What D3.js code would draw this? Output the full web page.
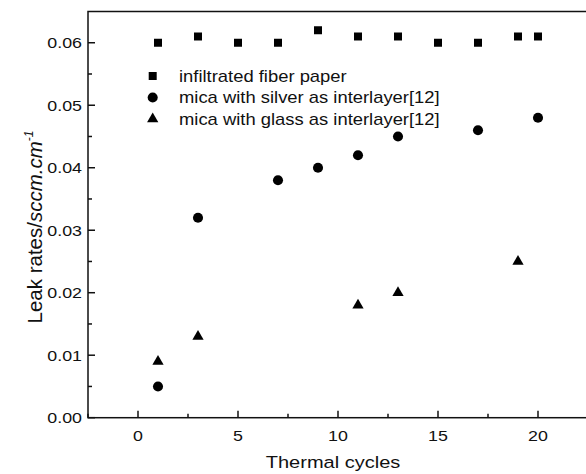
<!DOCTYPE html>
<html><head><meta charset="utf-8">
<script src="https://cdn.jsdelivr.net/npm/d3@7"></script>
<style>
html,body{margin:0;padding:0;background:#fff;}
svg{display:block;}
text{font-family:"Liberation Sans",Arial,Helvetica,sans-serif;fill:#111;}
</style></head><body>
<script>
// Data
const seriesNames = ["infiltrated fiber paper", "mica with silver as interlayer[12]", "mica with glass as interlayer[12]"];
const fiberX = [1, 3, 5, 7, 9, 11, 13, 15, 17, 19, 20];
const fiberY = [0.060, 0.061, 0.060, 0.060, 0.062, 0.061, 0.061, 0.060, 0.060, 0.061, 0.061];
const silverX = [1, 3, 7, 9, 11, 13, 17, 20];
const silverY = [0.005, 0.032, 0.038, 0.040, 0.042, 0.045, 0.046, 0.048];
const glassX = [1, 3, 11, 13, 19];
const glassY = [0.009, 0.013, 0.018, 0.020, 0.025];
const xTicks = [0, 5, 10, 15, 20];
const yTicks = [0.00, 0.01, 0.02, 0.03, 0.04, 0.05, 0.06];

const W = 586, H = 474;
const SX = 1.15; // horizontal stretch of the original image text
const svg = d3.select("body").append("svg").attr("width", W).attr("height", H);

const x = d3.scaleLinear().domain([-2.5, 22.5]).range([88, 588]);
const y = d3.scaleLinear().domain([0, 0.065]).range([417.7, 11.5]);

// frame
svg.append("rect").attr("x", x(-2.5)).attr("y", y(0.065))
  .attr("width", x(22.5) - x(-2.5)).attr("height", y(0) - y(0.065))
  .attr("fill", "none").attr("stroke", "#111").attr("stroke-width", 1.5);

// x axis ticks (inward)
const xMinor = d3.range(-2.5, 22.6, 2.5).filter(v => !xTicks.includes(v));
const gx = svg.append("g");
gx.selectAll("line.maj").data(xTicks).join("line")
  .attr("x1", d => x(d)).attr("x2", d => x(d)).attr("y1", y(0)).attr("y2", y(0) - 7)
  .attr("stroke", "#111").attr("stroke-width", 1.5);
gx.selectAll("line.min").data(xMinor).join("line")
  .attr("x1", d => x(d)).attr("x2", d => x(d)).attr("y1", y(0)).attr("y2", y(0) - 4)
  .attr("stroke", "#111").attr("stroke-width", 1.5);
gx.selectAll("text").data(xTicks).join("text")
  .attr("transform", d => `translate(${x(d)},${y(0) + 23}) scale(${SX},1)`)
  .attr("text-anchor", "middle").attr("font-size", 15.5).text(d => d3.format("d")(d));

// y axis ticks
const yMinor = d3.range(0.005, 0.065, 0.01);
const gy = svg.append("g");
gy.selectAll("line.maj").data(yTicks).join("line")
  .attr("x1", x(-2.5)).attr("x2", x(-2.5) + 7).attr("y1", d => y(d)).attr("y2", d => y(d))
  .attr("stroke", "#111").attr("stroke-width", 1.5);
gy.selectAll("line.min").data(yMinor).join("line")
  .attr("x1", x(-2.5)).attr("x2", x(-2.5) + 4).attr("y1", d => y(d)).attr("y2", d => y(d))
  .attr("stroke", "#111").attr("stroke-width", 1.5);
gy.selectAll("text").data(yTicks).join("text")
  .attr("transform", d => `translate(${x(-2.5) - 6},${y(d) + 5.5}) scale(${SX},1)`)
  .attr("text-anchor", "end").attr("font-size", 15.5).text(d => d3.format(".2f")(d));

// axis titles
svg.append("text").attr("transform", `translate(333,468) scale(${SX},1)`)
  .attr("text-anchor", "middle").attr("font-size", 17.4).text("Thermal cycles");
const yt = svg.append("text").attr("transform", "translate(42,227) rotate(-90)")
  .attr("text-anchor", "middle").attr("font-size", 20.5);
yt.append("tspan").text("Leak rates/");
yt.append("tspan").attr("font-style", "italic").text("sccm.cm");
yt.append("tspan").attr("font-style", "italic").attr("font-size", 12).attr("dy", -9).text("-1");

// markers
const sym = [d3.symbol().type(d3.symbolSquare).size(64),
             d3.symbol().type(d3.symbolCircle).size(80),
             d3.symbol().type(d3.symbolTriangle).size(55)];
const series = [
  fiberX.map((v, i) => [v, fiberY[i]]),
  silverX.map((v, i) => [v, silverY[i]]),
  glassX.map((v, i) => [v, glassY[i]])
];
series.forEach((pts, k) => {
  svg.append("g").selectAll("path").data(pts).join("path")
    .attr("transform", d => `translate(${x(d[0])},${y(d[1])})`)
    .attr("d", sym[k]()).attr("fill", "#000");
});

// legend
const lg = svg.append("g");
seriesNames.forEach((name, k) => {
  const yy = 76 + k * 21.5;
  lg.append("path").attr("transform", `translate(152.7,${yy})`).attr("d", sym[k]()).attr("fill", "#000");
  lg.append("text").attr("transform", `translate(179,${yy + 5.5}) scale(${SX},1)`)
    .attr("font-size", 16).text(name);
});
</script>
</body></html>
